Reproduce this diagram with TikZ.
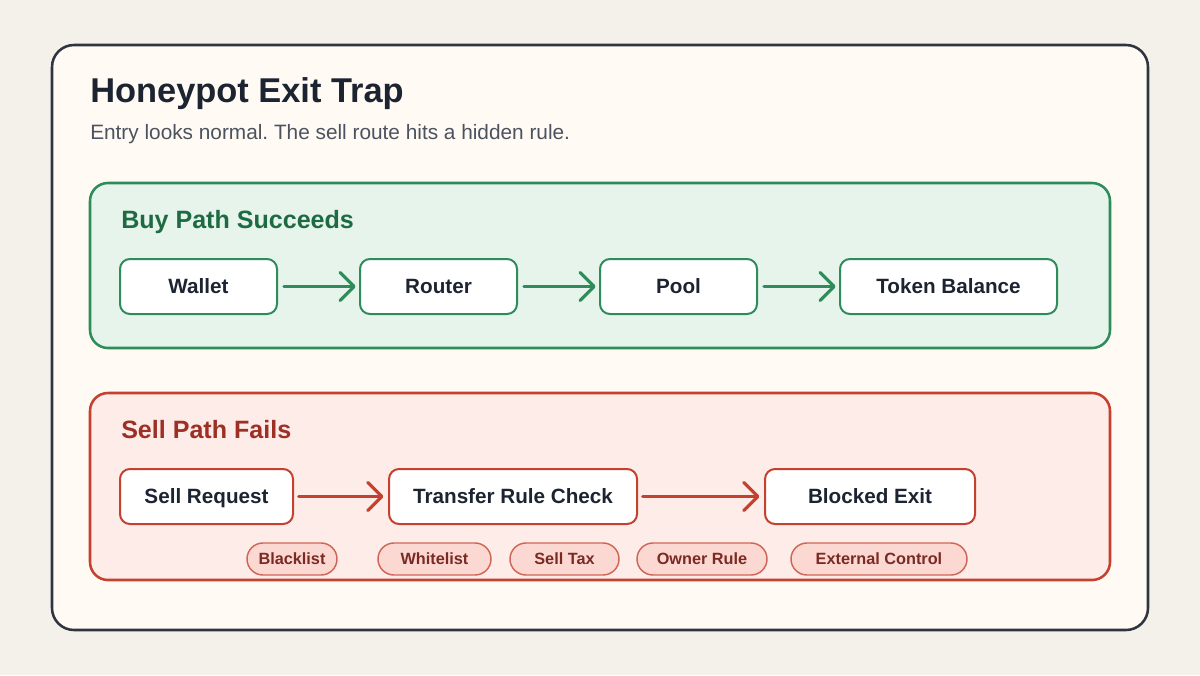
\documentclass[tikz,border=0pt]{standalone}
\usepackage{fontspec}
\setmainfont{Liberation Sans}
\frenchspacing
\usetikzlibrary{shapes, arrows.meta}
\definecolor{bg}{HTML}{F4F1EA}
\definecolor{card}{HTML}{FFFAF3}
\definecolor{ink}{HTML}{1C2431}
\definecolor{subink}{HTML}{4B5360}
\definecolor{cardline}{HTML}{2F3540}
\definecolor{buyline}{HTML}{2E8B5A}
\definecolor{buyfill}{HTML}{E7F4EC}
\definecolor{buytext}{HTML}{1E6B43}
\definecolor{sellline}{HTML}{C4402F}
\definecolor{sellfill}{HTML}{FDECE8}
\definecolor{selltext}{HTML}{9E2F25}
\definecolor{pillfill}{HTML}{FBD9D2}
\definecolor{pilltext}{HTML}{7A2A22}
\tikzstyle{heading} = [anchor=base west, inner sep=0pt, font=\bfseries\fontsize{18.8}{22}\selectfont]
\tikzstyle{buystep} = [rectangle, rounded corners=7.5pt, minimum width=117.75pt, minimum height=41.25pt, text height=11.1pt, text depth=0pt, text centered, draw=buyline, line width=1.5pt, fill=white, text=ink, font=\bfseries\fontsize{15.5}{18}\selectfont]
\tikzstyle{sellstep} = [buystep, draw=sellline]
\tikzstyle{pill} = [rectangle, rounded corners=12pt, minimum height=24pt, text height=8.8pt, text depth=0pt, text centered, draw=sellline!80, line width=1.1pt, fill=pillfill, text=pilltext, font=\bfseries\fontsize{12.2}{14}\selectfont]
\tikzstyle{buyedge} = [line width=2.4pt, draw=buyline, line cap=round, -{Straight Barb[length=10.5pt, width=21pt, round]}, shorten <=4.5pt, shorten >=2.5pt]
\tikzstyle{selledge} = [buyedge, draw=sellline, shorten <=3.5pt, shorten >=3.5pt]

\begin{document}
\begin{tikzpicture}[x=0.75pt, y=-0.75pt, node distance=180pt]

\useasboundingbox (0,0) rectangle (1200,675);
\fill[bg] (0,0) rectangle (1200,675);
\draw[cardline, fill=card, line width=1.9pt, rounded corners=16.5pt] (52,45) rectangle (1148,630);

\node (title) [anchor=base west, inner sep=0pt, text=ink, font=\bfseries\fontsize{25.8}{30}\selectfont] at (90,102) {Honeypot Exit Trap};
\node (sub) [anchor=base west, inner sep=0pt, text=subink, font=\fontsize{15.6}{19}\selectfont] at (90,139) {Entry looks normal. The sell route hits a hidden rule.};

\draw[buyline, fill=buyfill, line width=1.9pt, rounded corners=13.5pt] (90,183) rectangle (1110,348);
\node (buy) [heading, text=buytext] at (121,228) {Buy Path Succeeds};

\node (wallet) [buystep] at (198.5,286.5) {Wallet};
\node (router) [buystep, right of=wallet] {Router};
\node (pool) [buystep, right of=router] {Pool};
\node (balance) [buystep, minimum width=162.75pt, xshift=22.5pt, right of=pool] {Token Balance};

\draw [buyedge] (wallet) -- (router);
\draw [buyedge] (router) -- (pool);
\draw [buyedge] (pool) -- (balance);

\draw[sellline, fill=sellfill, line width=1.9pt, rounded corners=13.5pt] (90,393) rectangle (1110,580);
\node (sell) [heading, text=selltext] at (121,438) {Sell Path Fails};

\node (request) [sellstep, minimum width=129.75pt] at (206.5,496.5) {Sell Request};
\node (check) [sellstep, minimum width=186pt, xshift=49.9pt, right of=request] {Transfer Rule Check};
\node (blocked) [sellstep, minimum width=157.5pt, xshift=87.75pt, right of=check] {Blocked Exit};

\draw [selledge] (request) -- (check);
\draw [selledge] (check) -- (blocked);

\node (blacklist) [pill, minimum width=67.5pt] at (292,559) {Blacklist};
\node (whitelist) [pill, minimum width=84.75pt] at (434.5,559) {Whitelist};
\node (tax) [pill, minimum width=81.75pt] at (564.5,559) {Sell Tax};
\node (owner) [pill, minimum width=97.5pt] at (702,559) {Owner Rule};
\node (external) [pill, minimum width=132pt] at (879,559) {External Control};

\end{tikzpicture}
\end{document}
